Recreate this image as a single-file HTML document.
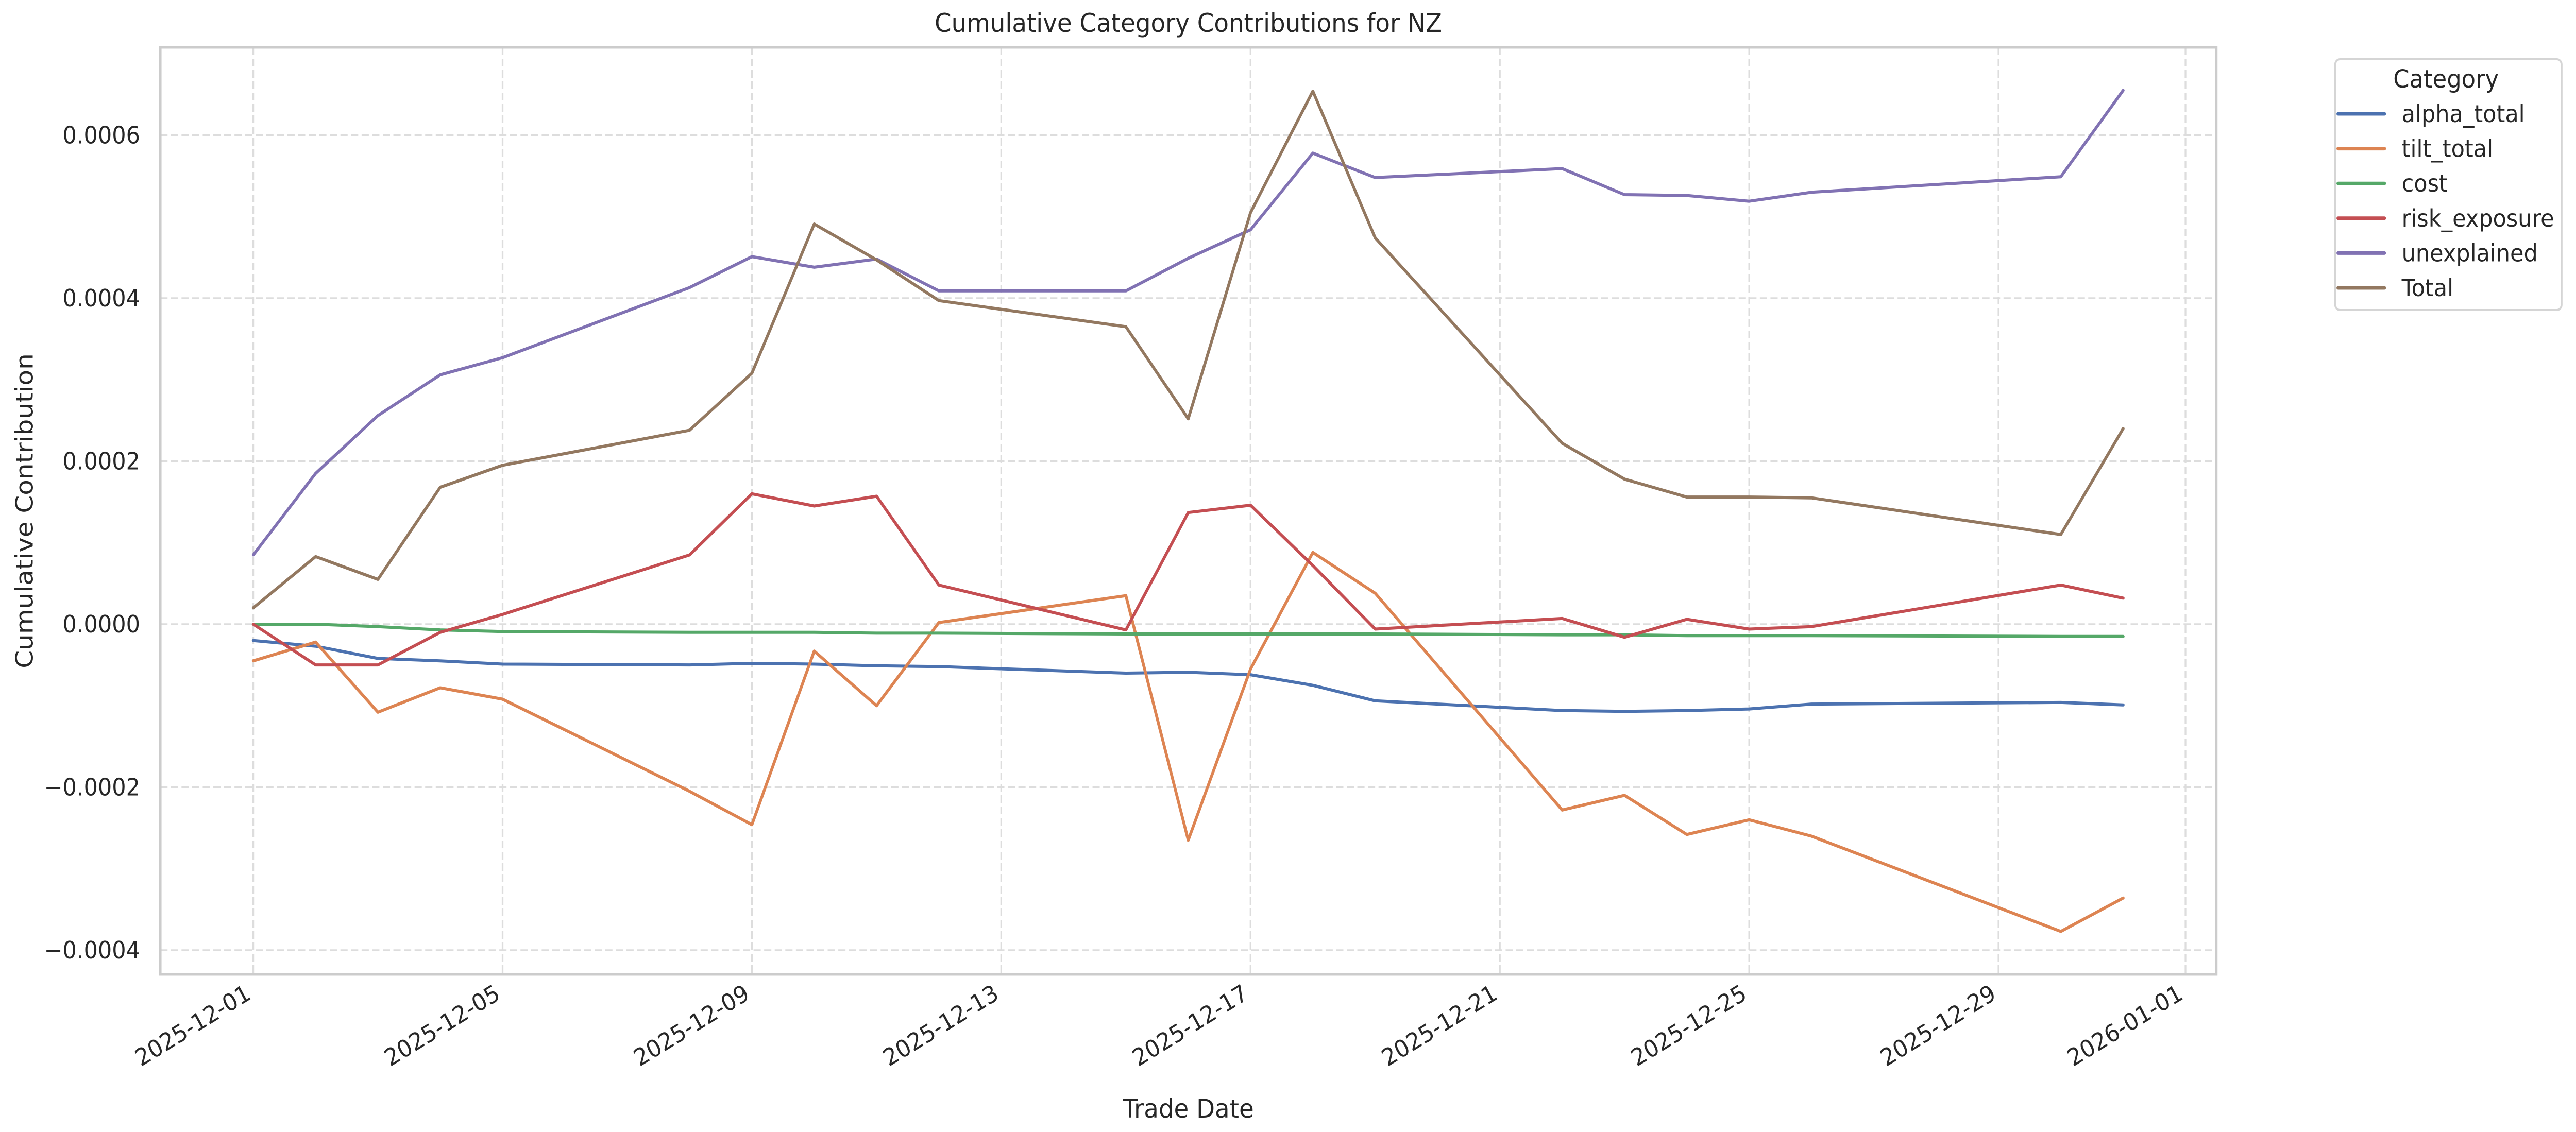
<!DOCTYPE html>
<html><head><meta charset="utf-8"><style>
html,body{margin:0;padding:0;background:#fff;overflow:hidden;width:100%;height:100%;}
svg{display:block;width:100vw;height:100vh;font-family:"DejaVu Sans","Liberation Sans",sans-serif;}
</style></head><body>
<svg id="s" viewBox="0 0 5350 2198" preserveAspectRatio="none" xmlns="http://www.w3.org/2000/svg">
<rect width="5350" height="2198" fill="#fff"/>
<g id="grid" stroke="#dddddd" stroke-width="3.5" stroke-dasharray="15,7"></g>
<g id="lines" fill="none" stroke-width="6" stroke-linejoin="round" stroke-linecap="round"></g>
<rect x="333" y="92" width="4270" height="1800" fill="none" stroke="#cccccc" stroke-width="5"/>
<g id="labels" fill="#262626" font-size="46"></g>
<text x="2468" y="62" font-size="50" text-anchor="middle" fill="#262626">Cumulative Category Contributions for NZ</text>
<text x="2468" y="2170" font-size="50" text-anchor="middle" fill="#262626">Trade Date</text>
<text transform="translate(68,992) rotate(-90)" font-size="50" text-anchor="middle" fill="#262626">Cumulative Contribution</text>
<g>
<rect x="4850" y="115" width="470" height="487" rx="10" fill="#fff" stroke="#d5d5d5" stroke-width="4"/>
<text x="5080" y="170" font-size="48" text-anchor="middle" fill="#262626">Category</text>
<g id="leg" font-size="46" fill="#262626"></g>
</g>
</svg>
<script>
var NS="http://www.w3.org/2000/svg";
function el(t,a,p,txt){var e=document.createElementNS(NS,t);for(var k in a)e.setAttribute(k,a[k]);if(txt)e.textContent=txt;document.getElementById(p).appendChild(e);return e;}
function X(d){return 526+129.45*(d-1);}
function Y(v){return 1212-v*158.25;}
[6,4,2,0,-2,-4].forEach(function(v){el('line',{x1:333,x2:4603,y1:Y(v),y2:Y(v)},'grid');
 var lab=(v<0?'\u22120.000':'0.000')+Math.abs(v);if(v==0)lab='0.0000';
 el('text',{x:291,y:Y(v)+16,'text-anchor':'end'},'labels',lab);});
var ticks=[[1,'2025-12-01'],[5,'2025-12-05'],[9,'2025-12-09'],[13,'2025-12-13'],[17,'2025-12-17'],[21,'2025-12-21'],[25,'2025-12-25'],[29,'2025-12-29'],[32,'2026-01-01']];
ticks.forEach(function(t){var x=X(t[0]);el('line',{x1:x,x2:x,y1:92,y2:1892},'grid');
 el('text',{transform:'translate('+(x-2)+',1938) rotate(-30)','text-anchor':'end'},'labels',t[1]);});
var D=[1,2,3,4,5,8,9,10,11,12,15,16,17,18,19,22,23,24,25,26,30,31];
var S=[
['alpha_total','#4c72b0',[-0.2,-0.27,-0.42,-0.45,-0.49,-0.5,-0.48,-0.49,-0.51,-0.52,-0.6,-0.59,-0.62,-0.75,-0.94,-1.06,-1.07,-1.06,-1.04,-0.98,-0.96,-0.99]],
['tilt_total','#dd8452',[-0.45,-0.22,-1.08,-0.78,-0.92,-2.05,-2.46,-0.33,-1.0,0.02,0.35,-2.65,-0.55,0.88,0.38,-2.28,-2.1,-2.58,-2.4,-2.6,-3.77,-3.36]],
['cost','#55a868',[0,0,-0.03,-0.07,-0.09,-0.1,-0.1,-0.1,-0.11,-0.11,-0.12,-0.12,-0.12,-0.12,-0.12,-0.13,-0.13,-0.14,-0.14,-0.14,-0.15,-0.15]],
['risk_exposure','#c44e52',[0,-0.5,-0.5,-0.1,0.12,0.85,1.6,1.45,1.57,0.48,-0.07,1.37,1.46,0.72,-0.06,0.07,-0.16,0.06,-0.06,-0.03,0.48,0.32]],
['unexplained','#8172b3',[0.85,1.85,2.56,3.06,3.27,4.13,4.51,4.38,4.48,4.09,4.09,4.49,4.84,5.78,5.48,5.59,5.27,5.26,5.19,5.3,5.49,6.55]],
['Total','#937860',[0.2,0.83,0.55,1.68,1.95,2.38,3.08,4.91,4.47,3.97,3.65,2.52,5.05,6.54,4.74,2.22,1.78,1.56,1.56,1.55,1.1,2.4]]];
S.forEach(function(s,i){var pts=D.map(function(d,j){return X(d).toFixed(1)+','+Y(s[2][j]).toFixed(1);}).join(' ');
 el('polyline',{points:pts,stroke:s[1]},'lines');
 var y=221+i*67.6;
 el('line',{x1:4856,x2:4952,y1:y,y2:y,stroke:s[1],'stroke-width':7,'stroke-linecap':'round'},'leg');
 el('text',{x:4988,y:y+16},'leg',s[0]);});
</script>
</body></html>
